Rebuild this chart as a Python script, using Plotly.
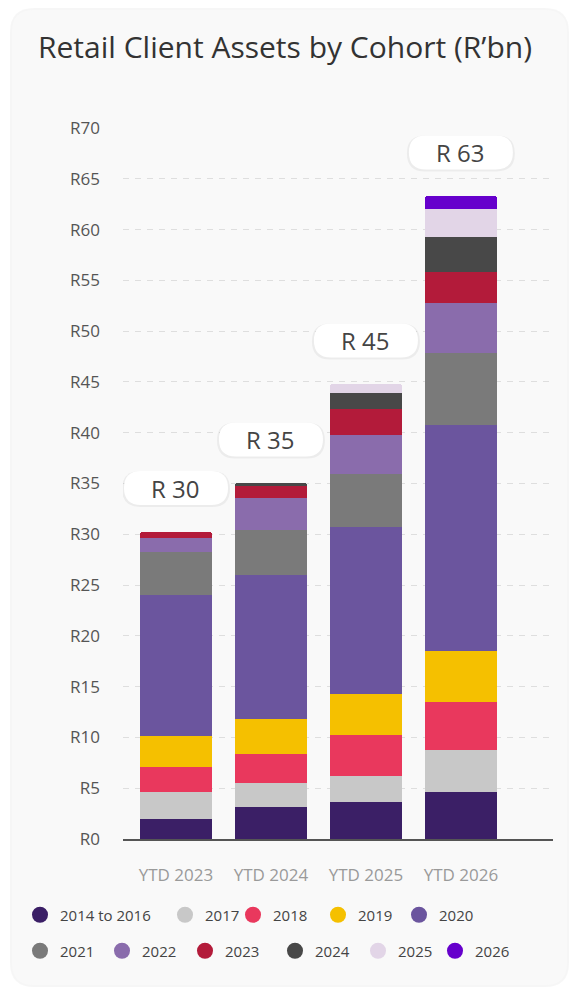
import plotly.graph_objects as go

categories = ["YTD 2023", "YTD 2024", "YTD 2025", "YTD 2026"]

cohorts = ["2014 to 2016", "2017", "2018", "2019", "2020", "2021",
           "2022", "2023", "2024", "2025", "2026"]

v_2014_2016 = [1.95, 3.18, 3.64, 4.60]
v_2017 = [2.65, 2.36, 2.56, 4.19]
v_2018 = [2.45, 2.83, 4.00, 4.72]
v_2019 = [3.10, 3.41, 4.10, 5.02]
v_2020 = [13.85, 14.17, 16.38, 22.22]
v_2021 = [4.25, 4.46, 5.22, 7.05]
v_2022 = [1.35, 3.12, 3.83, 4.93]
v_2023 = [0.65, 1.20, 2.62, 3.05]
v_2024 = [None, 0.30, 1.55, 3.50]
v_2025 = [None, None, 0.88, 2.70]
v_2026 = [None, None, None, 1.31]

series_values = [v_2014_2016, v_2017, v_2018, v_2019, v_2020, v_2021,
                 v_2022, v_2023, v_2024, v_2025, v_2026]

colors = ["#3b1f66", "#c8c8c8", "#e9385d", "#f5c000", "#6b559e", "#7a7a7a",
          "#8a6cac", "#b31b3a", "#484848", "#e2d5e7", "#6600cc"]

y_ticks = list(range(0, 75, 5))
y_ticktext = [f"R{v}" for v in y_ticks]

# layout geometry (pixels)
W, H = 570, 988
ML, MR, MT, MB = 123, 17, 128, 149
PW, PH = W - ML - MR, H - MT - MB
Y_MAX = 70
X_RANGE = [-0.558, 3.97]

# legend entry widths (px, text part) to mimic reference spacing
legend_widths = [100, 23, 40, 36, 40, 37, 38, 45, 38, 32, 40]


def px2paper_x(px):
    return (px - ML) / PW


def px2paper_y(py):
    return (H - MB - py) / PH


def rounded_rect(x0, y0, x1, y1, r):
    return (f"M {x0+r},{y0} L {x1-r},{y0} Q {x1},{y0} {x1},{y0+r} "
            f"L {x1},{y1-r} Q {x1},{y1} {x1-r},{y1} L {x0+r},{y1} "
            f"Q {x0},{y1} {x0},{y1-r} L {x0},{y0+r} Q {x0},{y0} {x0+r},{y0} Z")


def rounded_rect_paper(px0, py0, px1, py1, r):
    rx = r / PW
    ry = r / PH
    x0, x1 = px2paper_x(px0), px2paper_x(px1)
    y0, y1 = px2paper_y(py1), px2paper_y(py0)
    return (f"M {x0+rx},{y0} L {x1-rx},{y0} Q {x1},{y0} {x1},{y0+ry} "
            f"L {x1},{y1-ry} Q {x1},{y1} {x1-rx},{y1} L {x0+rx},{y1} "
            f"Q {x0},{y1} {x0},{y1-ry} L {x0},{y0+ry} Q {x0},{y0} {x0+rx},{y0} Z")


FONT = "Open Sans"

fig = go.Figure()

for name, vals, col in zip(cohorts, series_values, colors):
    fig.add_trace(go.Bar(
        x=categories, y=vals, name=name, marker=dict(color=col, line=dict(width=0)),
        showlegend=False, legendgroup=name, hoverinfo="name+y",
    ))

for i, (name, col, lw) in enumerate(zip(cohorts, colors, legend_widths)):
    fig.add_trace(go.Scatter(
        x=[None], y=[None], mode="markers", name=name, legendgroup=name,
        marker=dict(symbol="circle", size=16, color=col),
        legend="legend" if i < 5 else "legend2", legendwidth=lw,
    ))

shapes = []
# card background
shapes.append(dict(type="path", xref="paper", yref="paper", layer="below",
                   path=rounded_rect_paper(10, 8, 569, 987, 24),
                   fillcolor="rgba(0,0,0,0.035)", line=dict(width=0)))
shapes.append(dict(type="path", xref="paper", yref="paper", layer="below",
                   path=rounded_rect_paper(12, 10, 567, 985, 22),
                   fillcolor="#f9f9f9", line=dict(width=0)))

annotations = []
totals = [sum(v[i] for v in series_values if v[i] is not None) for i in range(len(categories))]
LABEL_OFFSET = 4.3
for i, t in enumerate(totals):
    yc = t + LABEL_OFFSET
    shapes.append(dict(type="path", xref="x", yref="y", xsizemode="pixel", ysizemode="pixel",
                       xanchor=i, yanchor=yc, layer="above",
                       path=rounded_rect(-54, -19, 54, 17, 18),
                       fillcolor="rgba(0,0,0,0.05)", line=dict(width=0)))
    shapes.append(dict(type="path", xref="x", yref="y", xsizemode="pixel", ysizemode="pixel",
                       xanchor=i, yanchor=yc, layer="above",
                       path=rounded_rect(-52, -17, 52, 17, 17),
                       fillcolor="#ffffff", line=dict(width=0)))
    annotations.append(dict(x=i, y=yc, xref="x", yref="y", text=f"R {round(t)}",
                            showarrow=False, font=dict(family=FONT, size=24, color="#444444"),
                            xanchor="center", yanchor="middle"))

fig.update_layout(
    width=W, height=H,
    margin=dict(l=ML, r=MR, t=MT, b=MB, pad=0),
    paper_bgcolor="#ffffff", plot_bgcolor="rgba(0,0,0,0)",
    barmode="stack", bargap=0.24, barcornerradius=3,
    font=dict(family=FONT, color="#555555"),
    title=dict(text="Retail Client Assets by Cohort (R’bn)", x=38 / W, xanchor="left",
               y=1 - 47 / H, yanchor="middle",
               font=dict(family=FONT, size=30, color="#333333")),
    xaxis=dict(type="category", range=X_RANGE, showgrid=False, showline=True,
               linecolor="#555555", linewidth=1.5, ticks="", fixedrange=True,
               tickfont=dict(family=FONT, size=17, color="#9a9a9a"), ticklabelstandoff=20),
    yaxis=dict(range=[0, Y_MAX], tickvals=y_ticks, ticktext=y_ticktext, showgrid=True,
               gridcolor="#dedede", griddash="6px,6px", gridwidth=1, zeroline=False,
               showline=False, ticks="", ticklabelstandoff=22, fixedrange=True,
               tickfont=dict(family=FONT, size=17, color="#555555")),
    legend=dict(orientation="h", x=px2paper_x(20), xanchor="left", y=px2paper_y(915),
                yanchor="middle", font=dict(family=FONT, size=15, color="#444444"),
                bgcolor="rgba(0,0,0,0)", itemsizing="trace", itemclick=False, itemdoubleclick=False),
    legend2=dict(orientation="h", x=px2paper_x(20), xanchor="left", y=px2paper_y(951),
                 yanchor="middle", font=dict(family=FONT, size=15, color="#444444"),
                 bgcolor="rgba(0,0,0,0)", itemsizing="trace", itemclick=False, itemdoubleclick=False),
    shapes=shapes,
    annotations=annotations,
)

fig.write_html(
    "out.html",
    config={"displayModeBar": False},
    post_script="document.body.style.margin='0';document.body.style.overflow='hidden';",
)
